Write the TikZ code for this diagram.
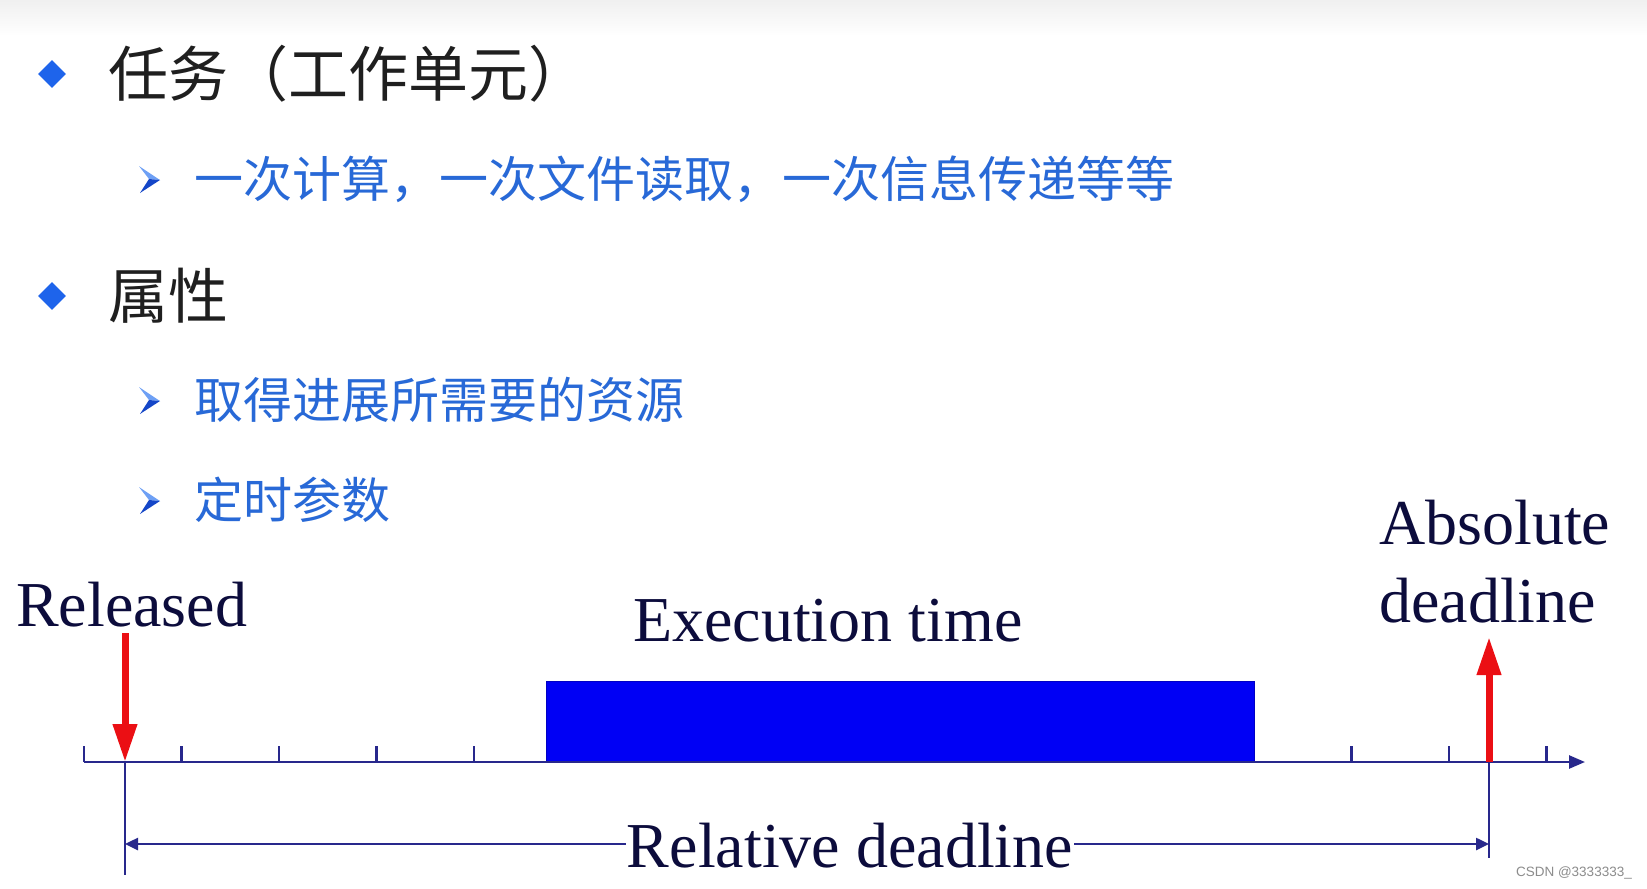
\documentclass[tikz,border=0pt]{standalone}
\usepackage{fontspec}
\setmainfont{Liberation Serif}
\newfontfamily\cjk{Noto Sans CJK SC}
\newfontfamily\wmfont{Liberation Sans}
\usetikzlibrary{positioning,shapes.geometric,arrows.meta}

\definecolor{bulletblue}{RGB}{30,100,235}
\definecolor{bulletdark}{RGB}{20,70,200}
\definecolor{bulletlight}{RGB}{110,160,245}
\definecolor{itemblue}{RGB}{40,105,215}
\definecolor{ink}{RGB}{12,12,60}
\definecolor{axisblue}{RGB}{40,40,140}
\definecolor{execblue}{RGB}{0,0,245}
\definecolor{markred}{RGB}{235,15,20}

\tikzset{
  mainbullet/.style={diamond, fill=bulletblue, inner sep=0pt, minimum width=28pt, minimum height=28pt},
  mainitem/.style={inner sep=0pt, font=\cjk\fontsize{60}{60}\selectfont, text=black!88},
  subitem/.style={inner sep=0pt, font=\cjk\fontsize{49}{49}\selectfont, text=itemblue},
  timetext/.style={inner sep=0pt, font=\fontsize{64}{64}\selectfont, text=ink},
  axisline/.style={draw=axisblue, line width=2.5pt},
  tickline/.style={draw=axisblue, line width=2.5pt},
  marker/.style={draw=markred, line width=7pt, -{Triangle[length=38pt,width=23pt]}},
  dimarrow/.style={draw=axisblue, line width=2.5pt, -{Triangle[length=13pt,width=12pt]}},
  execbox/.style={fill=execblue, draw=execblue!80!black, line width=1pt, inner sep=0pt,
    minimum width=708pt, minimum height=81pt}
}

\begin{document}
\begin{tikzpicture}[x=1pt, y=-1pt]
  \useasboundingbox (0,0) rectangle (1647,889);
  \fill[white] (0,0) rectangle (1647,889);
  \shade[top color=black!6, bottom color=white] (0,0) rectangle (1647,36);

  % Define nodes
  \node[mainbullet] (d1) at (52,74) {};
  \node[mainitem, right=42pt of d1] (task) {任务（工作单元）};
  \node[mainbullet] (d2) at (52,296) {};
  \node[mainitem, right=42pt of d2] (attr) {属性};

  \coordinate (s1) at (149,179);
  \coordinate (s2) at (149,400);
  \coordinate (s3) at (149,500);
  \foreach \s in {s1,s2,s3} {
    \fill[bulletlight] ([shift={(-10,-13)}]\s) -- ([shift={(11,1)}]\s) -- (\s) -- cycle;
    \fill[bulletdark] (\s) -- ([shift={(11,1)}]\s) -- ([shift={(-9,14)}]\s) -- cycle;
  }
  \node[subitem, right=45pt of s1] (ex) {一次计算，一次文件读取，一次信息传递等等};
  \node[subitem, right=45pt of s2] (res) {取得进展所需要的资源};
  \node[subitem, right=45pt of s3] (tim) {定时参数};

  % time line
  \coordinate (o) at (84,762);
  \coordinate (end) at (1585,762);
  \coordinate (rls) at (125,762);
  \coordinate (abs) at (1489,762);
  \node[execbox] (exec) at (900,721.5) {};
  \draw[axisline, -{Triangle[length=16pt,width=13pt]}] (o) -- (end);
  \foreach \k in {0,...,4,13,14,15}
    \draw[tickline] (84+97.5*\k,762) -- ++(0,-16);

  \node[timetext, anchor=base west] (released) at (16,626) {Released};
  \node[timetext, anchor=base west] (exectext) at (633,641) {Execution time};
  \node[timetext, anchor=base west] (absl) at (1379,544) {Absolute};
  \node[timetext, anchor=base west] (dl) at (1379,622) {deadline};

  \coordinate (rlstop) at (125,633);
  \coordinate (abstop) at (1489,637);
  \draw[marker] (rlstop) -- (rls);
  \draw[marker] (abs) -- (abstop);

  \coordinate (lft) at (125,844);
  \coordinate (rgt) at (1489,844);
  \draw[axisline] (rls) -- (125,875);
  \draw[axisline] (abs) -- (1489,858);
  \node[timetext, anchor=base, inner xsep=1pt] (rdl) at (850,867) {Relative deadline};
  \draw[dimarrow] (rdl.west |- lft) -- (lft);
  \draw[dimarrow] (rdl.east |- rgt) -- (rgt);

  \node[anchor=east, inner sep=0pt, font=\wmfont\fontsize{13.5}{14}\selectfont, text=black!45] (wm) at (1632,873) {CSDN @3333333\_};
\end{tikzpicture}
\end{document}
